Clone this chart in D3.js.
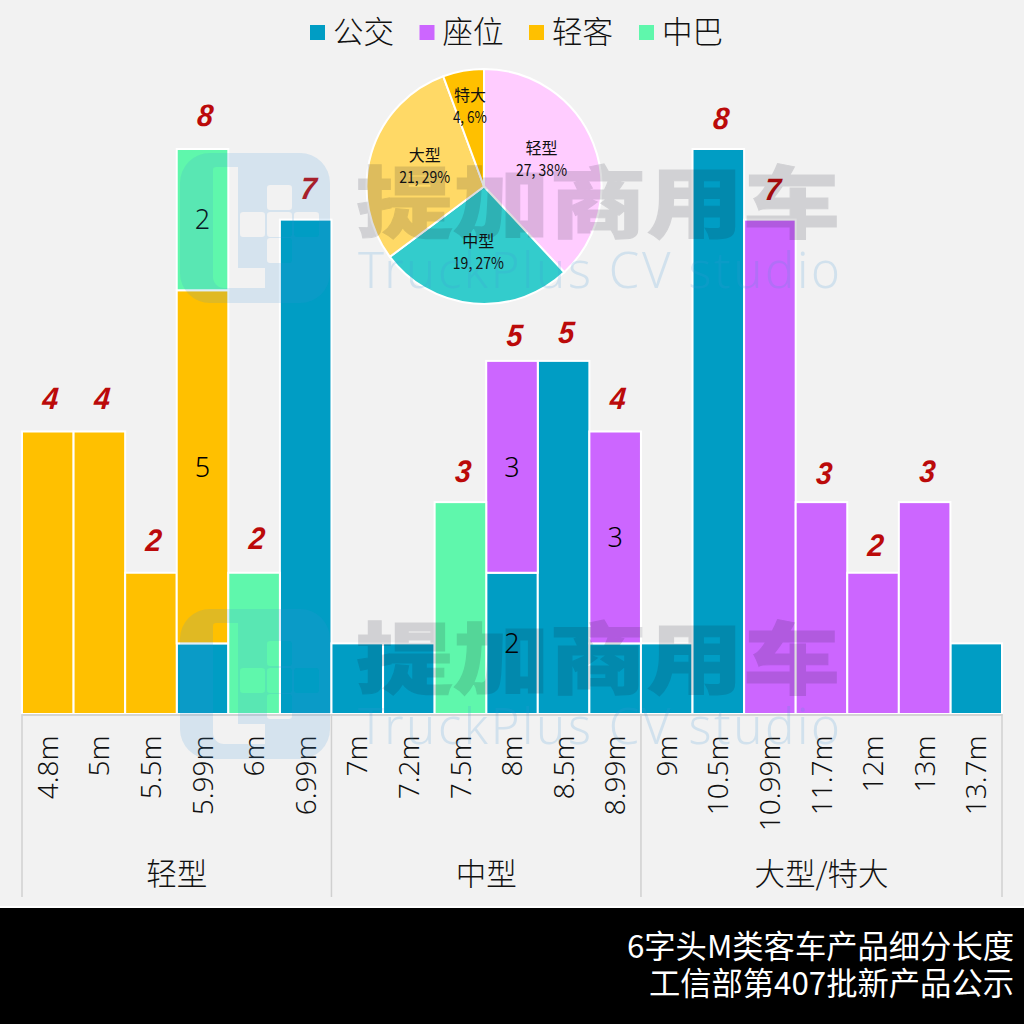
<!DOCTYPE html>
<html>
<head>
<meta charset="utf-8">
<script src="https://cdn.jsdelivr.net/npm/d3@7"></script>
<style>
  html, body { margin: 0; padding: 0; background: #f2f2f2; }
  svg { display: block; }
  text { font-family: "Noto Sans CJK SC", "Noto Sans", sans-serif; }
</style>
</head>
<body>
<svg id="chart" width="1024" height="1024"></svg>
<script>
// Vehicle lengths and the number of new models per body type
const categories = ["4.8m","5m","5.5m","5.99m","6m","6.99m","7m","7.2m","7.5m","8m","8.5m","8.99m","9m","10.5m","10.99m","11.7m","12m","13m","13.7m"];
const busValues   = [0,0,0,1,0,7,1,1,0,2,5,1,1,8,0,0,0,0,1];
const seatValues  = [0,0,0,0,0,0,0,0,0,3,0,3,0,0,7,3,2,3,0];
const lightValues = [4,4,2,5,0,0,0,0,0,0,0,0,0,0,0,0,0,0,0];
const midValues   = [0,0,0,2,2,0,0,0,3,0,0,0,0,0,0,0,0,0,0];
const seriesNames = ["公交","座位","轻客","中巴"];
const seriesColors = ["#009dc4","#cc66ff","#ffc000","#5ff7ac"];

const groupNames = ["轻型","中型","大型/特大"];
const groupSizes = [6,6,7];

const pieNames  = ["轻型","中型","大型","特大"];
const pieValues = [27,19,21,4];
const piePercents = ["38%","27%","29%","6%"];
const pieColors = ["#ffccff","#33cccc","#ffd966","#ffc000"];

const titleLines = ["6字头M类客车产品细分长度","工信部第407批新产品公示"];

// Individual vertical lift of each total label above its column
const totalLift = [23,23,22,23,24,21,0,0,20,15,18,23,0,20,20,18,17,20,0];
// Hand placement of the pie captions relative to their slice centroids
const pieLabelNudge = [[-2,-4],[0,2],[2,-2],[0,-2]];

const svg = d3.select("#chart");
svg.append("rect").attr("width",1024).attr("height",1024).attr("fill","#f2f2f2");

const x = d3.scaleBand().domain(categories).range([22,1002]).padding(0);
const y = d3.scaleLinear().domain([0,8]).range([714,149]);

// Stacked columns
const rows = categories.map((c,i)=>({c, 0:busValues[i], 1:seatValues[i], 2:lightValues[i], 3:midValues[i]}));
const stacked = d3.stack().keys([0,1,2,3])(rows);

svg.append("g").selectAll("g").data(stacked).join("g")
  .attr("fill",d=>seriesColors[d.key])
  .selectAll("rect").data(d=>d.filter(p=>p[1]>p[0])).join("rect")
  .attr("x",d=>x(d.data.c))
  .attr("width",x.bandwidth())
  .attr("y",d=>y(d[1]))
  .attr("height",d=>y(d[0])-y(d[1]))
  .attr("stroke","#fff").attr("stroke-width",2);

// Segment values, shown only inside mixed columns
const mixed = new Set(categories.filter((c,i)=>[busValues,seatValues,lightValues,midValues].filter(s=>s[i]>0).length>1));
svg.append("g").selectAll("g").data(stacked).join("g")
  .selectAll("text").data(d=>d.filter(p=>mixed.has(p.data.c) && p[1]-p[0]>1)).join("text")
  .attr("x",d=>x(d.data.c)+x.bandwidth()/2)
  .attr("y",d=>(y(d[0])+y(d[1]))/2)
  .attr("dy","0.36em")
  .attr("text-anchor","middle")
  .attr("font-size",27)
  .style("font-family",'"Noto Sans", sans-serif')
  .style("font-weight",300)
  .attr("fill","#000")
  .text(d=>d[1]-d[0]);

// Column totals
const totals = categories.map((c,i)=>busValues[i]+seatValues[i]+lightValues[i]+midValues[i]);
svg.append("g").selectAll("text").data(categories.map((c,i)=>({c,t:totals[i],lift:totalLift[i]})).filter(d=>d.t>1)).join("text")
  .attr("transform",d=>`translate(${x(d.c)+x.bandwidth()/2+2},${y(d.t)-d.lift}) skewX(-5) scale(0.92,1)`)
  .attr("text-anchor","middle")
  .attr("font-size",31)
  .attr("font-weight",700)
  .attr("font-style","italic")
  .style("font-family",'"Liberation Sans", Arial, sans-serif')
  .attr("fill","#bb0a0a")
  .text(d=>d.t);

// Category axis
const axis = svg.append("g").attr("transform","translate(0,714.5)")
  .call(d3.axisBottom(x).tickSize(0));
axis.select(".domain").attr("stroke","#d4d4d4").attr("stroke-width",2);
axis.selectAll("text")
  .attr("transform","rotate(-90)")
  .attr("x",-21).attr("y",0).attr("dy","0.36em")
  .attr("text-anchor","end")
  .attr("font-size",28)
  .style("font-family",'"Noto Sans", sans-serif')
  .style("font-weight",300)
  .attr("fill","#111");

// Group separators and names
const groupEdges = d3.cumsum([0,...groupSizes]);
const stepW = x.step();
svg.append("g").selectAll("line").data(groupEdges).join("line")
  .attr("x1",d=>22+d*stepW).attr("x2",d=>22+d*stepW)
  .attr("y1",714).attr("y2",897)
  .attr("stroke","#d0d0d0").attr("stroke-width",1.5);
svg.append("g").selectAll("text").data(groupNames).join("text")
  .attr("x",(d,i)=>22+(groupEdges[i]+groupEdges[i+1])/2*stepW)
  .attr("y",885)
  .attr("text-anchor","middle")
  .attr("font-size",30.5)
  .attr("font-weight",300)
  .attr("fill","#111")
  .text(d=>d);

// Legend
const legendSwatchX = [310,419.5,529,639];
const legend = svg.append("g").selectAll("g").data(seriesNames).join("g")
  .attr("transform",(d,i)=>`translate(${legendSwatchX[i]},25)`);
legend.append("rect").attr("width",15).attr("height",15).attr("fill",(d,i)=>seriesColors[i]);
legend.append("text").attr("x",23).attr("y",18).attr("font-size",30.5).attr("font-weight",300).attr("fill","#111").text(d=>d);

// Share of models by length class
const pieG = svg.append("g").attr("transform","translate(484,186.5)");
const pie = d3.pie().sort(null).value(d=>d);
const pieArcs = pie(pieValues);
const arc = d3.arc().innerRadius(0).outerRadius(117.5);
pieG.selectAll("path").data(pieArcs).join("path")
  .attr("d",arc)
  .attr("fill",(d,i)=>pieColors[i])
  .attr("stroke","#fff").attr("stroke-width",2);
const pieLabelPos = d=>{
  const r = d.value<10 ? 80 : 64;
  return d3.arc().innerRadius(r).outerRadius(r).centroid(d);
};
const pieLab = pieG.selectAll("g").data(pieArcs).join("g")
  .attr("transform",(d,i)=>{
    const p=pieLabelPos(d);
    return `translate(${p[0]+pieLabelNudge[i][0]},${p[1]+pieLabelNudge[i][1]})`;
  })
  .attr("text-anchor","middle").attr("fill","#111");
pieLab.append("text").attr("y",-5).attr("font-size",16).attr("font-weight",400).text((d,i)=>pieNames[i]);
pieLab.append("text").attr("y",17).attr("font-size",16).attr("font-weight",400)
  .attr("textLength",(d,i)=>i===3?34:51).attr("lengthAdjust","spacingAndGlyphs")
  .text((d,i)=>`${d.value}, ${piePercents[i]}`);

// Footer band
svg.append("rect").attr("x",0).attr("y",906).attr("width",1024).attr("height",2).attr("fill","#fff");
svg.append("rect").attr("x",0).attr("y",908).attr("width",1024).attr("height",116).attr("fill","#000");
svg.append("g").selectAll("text").data(titleLines).join("text")
  .attr("x",1014).attr("y",(d,i)=>958+i*37)
  .attr("text-anchor","end")
  .attr("font-size",31.3)
  .attr("font-weight",400)
  .attr("fill","#fff")
  .text(d=>d);

// Brand stamp, laid over the whole chart twice
function stamp(dy){
  const g = svg.append("g").attr("transform",`translate(0,${dy})`).style("pointer-events","none");
  const rr = (x0,y0,w,h,r)=>`M${x0+r},${y0}h${w-2*r}a${r},${r} 0 0 1 ${r},${r}v${h-2*r}a${r},${r} 0 0 1 ${-r},${r}h${-(w-2*r)}a${r},${r} 0 0 1 ${-r},${-r}v${-(h-2*r)}a${r},${r} 0 0 1 ${r},${-r}z`;
  let logo = rr(180,153,150,150,30);
  logo += "M216,167h22v101h27v20h-41a11,11 0 0 1 -11,-11v-107a3,3 0 0 1 3,-3z";
  [[267,185],[240,212],[267,212],[294,212],[267,238]].forEach(([a,b])=>{ logo += rr(a,b,25,25,3); });
  g.append("path").attr("d",logo).attr("fill","#4098d8").attr("fill-rule","evenodd").attr("opacity",0.16);
  g.append("text").attr("x",356).attr("y",232)
    .attr("font-size",78).attr("font-weight",900)
    .attr("textLength",484).attr("lengthAdjust","spacingAndGlyphs")
    .attr("fill","#141428").attr("stroke","#141428").attr("stroke-width",1)
    .attr("opacity",0.14)
    .text("提加商用车");
  g.append("text").attr("x",358).attr("y",288)
    .attr("font-size",49)
    .attr("textLength",482).attr("lengthAdjust","spacing")
    .style("font-family",'"Noto Sans", sans-serif')
    .style("font-weight",300)
    .attr("fill","#4098d8").attr("opacity",0.18)
    .text("TruckPlus CV studio");
}
stamp(0);
stamp(456);
</script>
</body>
</html>
